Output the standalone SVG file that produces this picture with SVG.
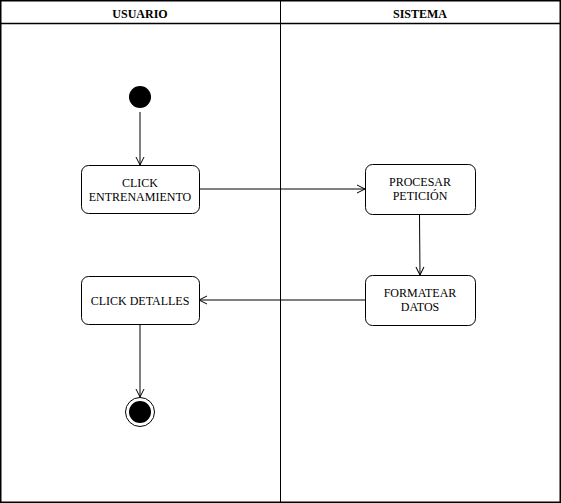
<svg xmlns="http://www.w3.org/2000/svg" width="561" height="503" viewBox="0 0 561 503">
<defs>
<marker id="open" viewBox="0 0 10 10" refX="9" refY="5" markerWidth="10" markerHeight="10" markerUnits="userSpaceOnUse" orient="auto">
<path d="M1,1 L9,5 L1,9" fill="none" stroke="#000" stroke-width="1"/>
</marker>
<style>
.lane{fill:none;stroke:#000;stroke-width:1.5}
.box{fill:#fff;stroke:#000;stroke-width:1}
.t{font-family:"Liberation Serif",serif;font-size:12px;fill:#000;text-anchor:middle}
.h{font-family:"Liberation Serif",serif;font-size:12px;font-weight:bold;fill:#000;text-anchor:middle}
.c{fill:none;stroke:#000;stroke-width:1;marker-end:url(#open)}
</style>
</defs>
<rect width="561" height="503" fill="#fff"/>
<g id="lanes">
<rect class="lane" x="0.75" y="0.75" width="559.5" height="501.5"/>
<line class="lane" x1="0.75" y1="23.5" x2="560.25" y2="23.5" stroke-width="1"/>
<line x1="280.5" y1="0" x2="280.5" y2="502" stroke="#000" stroke-width="1"/>
<text class="h" x="140" y="18">USUARIO</text>
<text class="h" x="420" y="18">SISTEMA</text>
</g>
<g id="connectors">
<line class="c" x1="140" y1="112" x2="140" y2="165"/>
<line class="c" x1="199" y1="189" x2="365" y2="189"/>
<line class="c" x1="419.5" y1="214" x2="420" y2="275"/>
<line class="c" x1="365" y1="300" x2="199" y2="300"/>
<line class="c" x1="140" y1="324" x2="140" y2="397"/>
</g>
<g id="start"><circle cx="140" cy="97" r="11" fill="#000"/></g>
<g id="n1"><rect class="box" x="81.5" y="165.5" width="118" height="48" rx="7"/>
<text class="t" x="140" y="187">CLICK</text><text class="t" x="140" y="201">ENTRENAMIENTO</text></g>
<g id="n2"><rect class="box" x="365.5" y="164.5" width="110" height="50" rx="7"/>
<text class="t" x="420" y="186">PROCESAR</text><text class="t" x="420" y="200">PETICIÓN</text></g>
<g id="n3"><rect class="box" x="365.5" y="275.5" width="110" height="50" rx="7"/>
<text class="t" x="420" y="297">FORMATEAR</text><text class="t" x="420" y="311">DATOS</text></g>
<g id="n4"><rect class="box" x="81.5" y="276.5" width="118" height="48" rx="7"/>
<text class="t" x="140" y="305">CLICK DETALLES</text></g>
<g id="end"><circle cx="140" cy="412" r="14.5" fill="#fff" stroke="#000" stroke-width="1"/><circle cx="140" cy="412" r="11" fill="#000"/></g>
</svg>
